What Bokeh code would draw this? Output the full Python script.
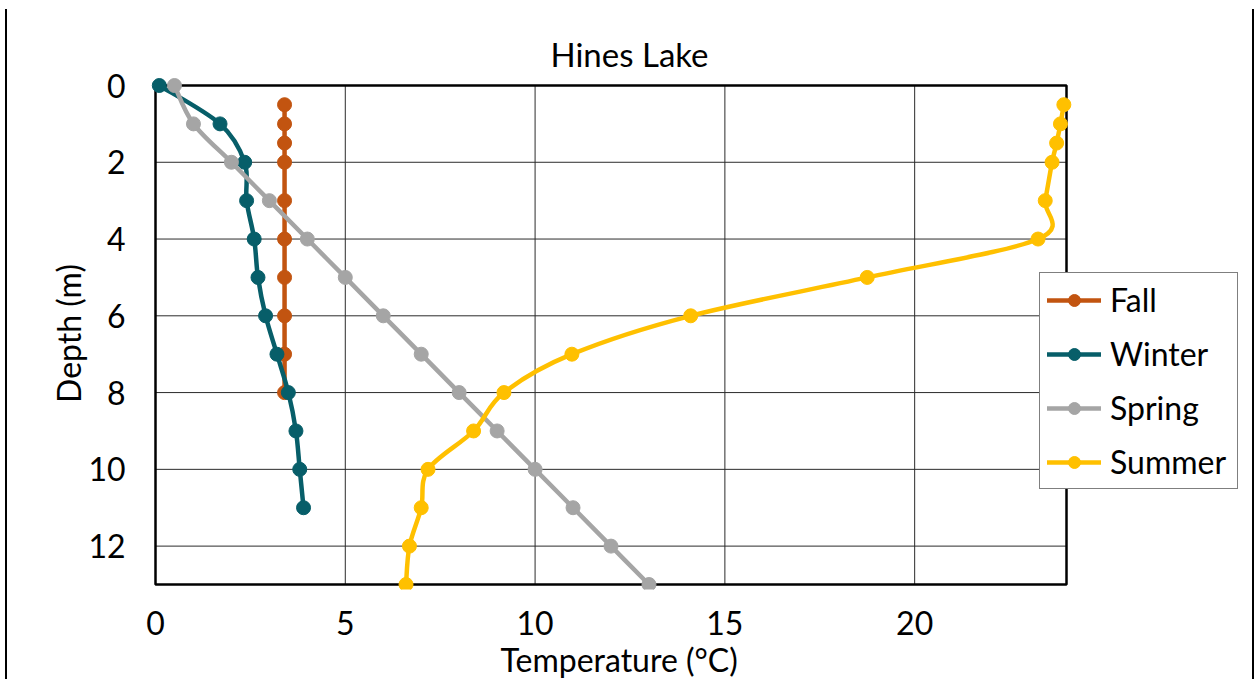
from bokeh.plotting import figure
from bokeh.models import (Range1d, FixedTicker, Legend, LegendItem, ColumnDataSource,
                          Title, InlineStyleSheet)
from bokeh.embed import file_html
from bokeh.resources import INLINE

# Temperature profiles (deg C) against depth (m), Hines Lake
fall_depth = [0.5, 1, 1.5, 2, 3, 4, 5, 6, 7, 8]
fall_temp = [3.4, 3.4, 3.4, 3.4, 3.4, 3.4, 3.4, 3.4, 3.4, 3.4]

winter_depth = [0, 1, 2, 3, 4, 5, 6, 7, 8, 9, 10, 11]
winter_temp = [0.1, 1.7, 2.35, 2.4, 2.6, 2.7, 2.9, 3.2, 3.5, 3.7, 3.8, 3.9]

spring_depth = [0, 1, 2, 3, 4, 5, 6, 7, 8, 9, 10, 11, 12, 13]
spring_temp = [0.5, 1, 2, 3, 4, 5, 6, 7, 8, 9, 10, 11, 12, 13]

summer_depth = [0.5, 1, 1.5, 2, 3, 4, 5, 6, 7, 8, 9, 10, 11, 12, 13]
summer_temp = [23.93, 23.84, 23.74, 23.62, 23.44, 23.25, 18.75, 14.1, 10.97, 9.18, 8.38, 7.18, 7.0, 6.69, 6.6]

x_ticks = [0, 5, 10, 15, 20]
y_ticks = [0, 2, 4, 6, 8, 10, 12]
x_min, x_max = 0, 24
y_min, y_max = 0, 13

FONT = "Lato"
FS = "32px"

# Plot box in canvas pixels; the frame is padded so end markers are not cut,
# and runs on to the right edge so the legend can sit across the box border.
W, H = 1256, 679
BOX_L, BOX_R, BOX_T, BOX_B = 155, 1066, 85, 584
PAD_L, PAD_T, PAD_B = 8, 8, 5
px_x = (BOX_R - BOX_L) / (x_max - x_min)
px_y = (BOX_B - BOX_T) / (y_max - y_min)

p = figure(width=W, height=H, output_backend="svg", toolbar_location=None,
           x_range=Range1d(x_min - PAD_L / px_x, x_max + (W - BOX_R) / px_x),
           y_range=Range1d(y_max + PAD_B / px_y, y_min - PAD_T / px_y),
           min_border_left=BOX_L - PAD_L, min_border_right=0,
           min_border_top=BOX_T - PAD_T, min_border_bottom=H - BOX_B - PAD_B)
p.title = Title(text="Hines Lake", align="left", offset=403, text_font=FONT,
                text_font_size="33px", text_font_style="normal", text_color="black",
                standoff=8)

p.outline_line_color = None
p.background_fill_color = "white"
p.border_fill_color = "white"
p.xgrid.visible = False
p.ygrid.visible = False

for ax in (p.xaxis[0], p.yaxis[0]):
    ax.axis_line_color = None
    ax.major_tick_line_color = None
    ax.minor_tick_line_color = None
    ax.major_label_text_font = FONT
    ax.major_label_text_font_size = FS
    ax.major_label_text_color = "black"
    ax.axis_label_text_font = FONT
    ax.axis_label_text_font_size = FS
    ax.axis_label_text_font_style = "normal"
    ax.axis_label_text_color = "black"

p.xaxis.ticker = FixedTicker(ticks=x_ticks)
p.yaxis.ticker = FixedTicker(ticks=y_ticks)
p.yaxis.axis_label = "Depth (m)"
p.xaxis.major_label_standoff = 15
p.yaxis.major_label_standoff = 16
p.yaxis.axis_label_standoff = -3

# x axis caption, centred under the plot box rather than the whole frame
p.add_layout(Title(text="Temperature (°C)", align="left", offset=500 - (BOX_L - PAD_L),
                   text_font=FONT, text_font_size=FS, text_font_style="normal",
                   text_color="black", standoff=0), "below")

# grid lines, limited to the plot box
p.segment(x0=x_ticks, x1=x_ticks, y0=[y_min] * len(x_ticks), y1=[y_max] * len(x_ticks),
          line_color="#2b2b2b", line_width=1)
p.segment(x0=[x_min] * len(y_ticks), x1=[x_max] * len(y_ticks), y0=y_ticks, y1=y_ticks,
          line_color="#2b2b2b", line_width=1)
# plot box border
p.quad(left=[x_min], right=[x_max], top=[y_min], bottom=[y_max], fill_color=None,
       line_color="black", line_width=2.5)


def smooth_segments(xs, ys):
    """Cubic Bezier pieces (Catmull-Rom style tangents) joining successive points."""
    n = len(xs)
    seg = dict(x0=[], y0=[], x1=[], y1=[], cx0=[], cy0=[], cx1=[], cy1=[])
    for i in range(n - 1):
        a = max(i - 1, 0)
        d = min(i + 2, n - 1)
        seg["x0"].append(xs[i]); seg["y0"].append(ys[i])
        seg["x1"].append(xs[i + 1]); seg["y1"].append(ys[i + 1])
        seg["cx0"].append(xs[i] + (xs[i + 1] - xs[a]) / 6)
        seg["cy0"].append(ys[i] + (ys[i + 1] - ys[a]) / 6)
        seg["cx1"].append(xs[i + 1] - (xs[d] - xs[i]) / 6)
        seg["cy1"].append(ys[i + 1] - (ys[d] - ys[i]) / 6)
    return ColumnDataSource(seg)


series = [
    ("Fall", fall_temp, fall_depth, "#C25410"),
    ("Winter", winter_temp, winter_depth, "#075E69"),
    ("Spring", spring_temp, spring_depth, "#A5A5A5"),
    ("Summer", summer_temp, summer_depth, "#FFC000"),
]

items = []
for name, t, d, color in series:
    curve = p.bezier(x0="x0", y0="y0", x1="x1", y1="y1", cx0="cx0", cy0="cy0",
                     cx1="cx1", cy1="cy1", source=smooth_segments(t, d),
                     line_color=color, line_width=4.5, line_cap="round")
    dots = p.scatter(t, d, size=14, marker="circle", fill_color=color, line_color=color)
    items.append(LegendItem(label=name, renderers=[curve, dots]))

legend = Legend(items=items, location=(1039 - (BOX_L - PAD_L), (BOX_B + PAD_B) - 489),
                border_line_color="black", border_line_width=1.5,
                background_fill_color="white", background_fill_alpha=1,
                label_text_font=FONT, label_text_font_size=FS, label_text_color="black",
                glyph_width=54, glyph_height=30, label_height=30, label_width=120,
                spacing=15, padding=7, label_standoff=9, margin=0)
p.add_layout(legend, "center")

# thin page rules at both sides of the chart
p.stylesheets = [InlineStyleSheet(css="""
:host { position: relative; }
:host::before, :host::after {
  content: ""; position: absolute; top: 9px; bottom: 0; width: 2px;
  background: black; z-index: 100; pointer-events: none;
}
:host::before { left: 5px; }
:host::after { left: 1252px; }
""")]

open("out.html", "w").write(file_html(p, INLINE))
